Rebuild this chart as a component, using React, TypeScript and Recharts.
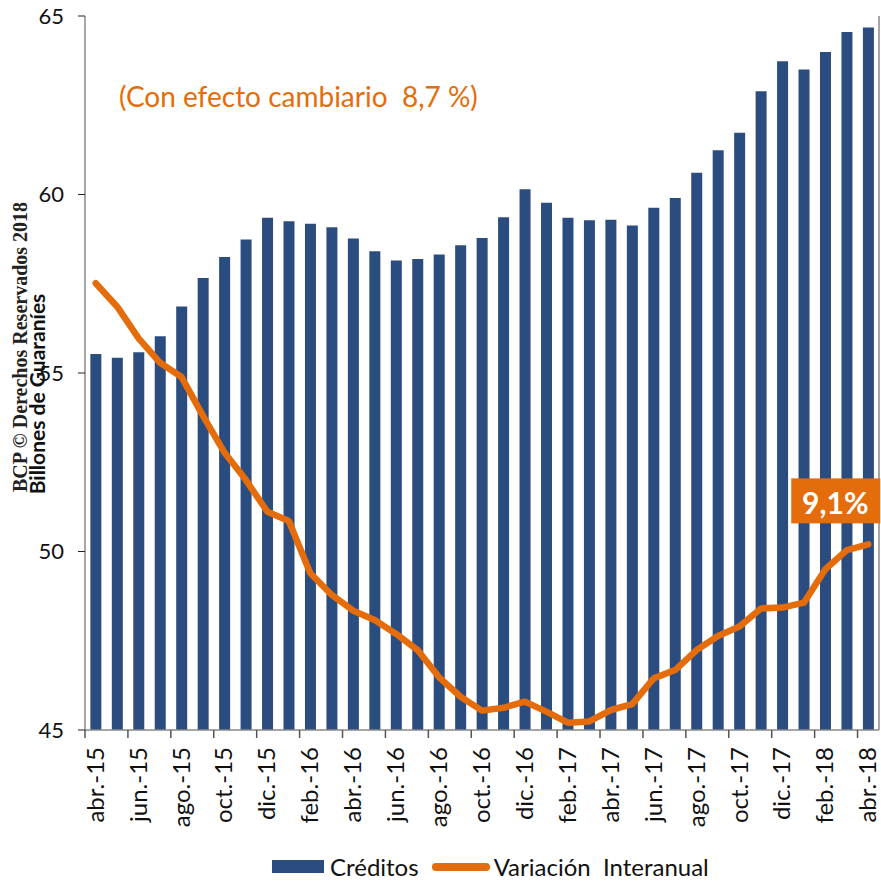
import { ComposedChart, Bar, Line, XAxis, YAxis } from 'recharts';

const meses = [
  'abr.-15', 'may.-15', 'jun.-15', 'jul.-15', 'ago.-15', 'sep.-15', 'oct.-15', 'nov.-15', 'dic.-15',
  'ene.-16', 'feb.-16', 'mar.-16', 'abr.-16', 'may.-16', 'jun.-16', 'jul.-16', 'ago.-16', 'sep.-16',
  'oct.-16', 'nov.-16', 'dic.-16', 'ene.-17', 'feb.-17', 'mar.-17', 'abr.-17', 'may.-17', 'jun.-17',
  'jul.-17', 'ago.-17', 'sep.-17', 'oct.-17', 'nov.-17', 'dic.-17', 'ene.-18', 'feb.-18', 'mar.-18',
  'abr.-18',
];

// Billones de guaraníes
const creditos = [
  55.53, 55.43, 55.58, 56.03, 56.86, 57.66, 58.25, 58.74, 59.35, 59.25, 59.18, 59.08, 58.77,
  58.41, 58.15, 58.19, 58.32, 58.58, 58.78, 59.36, 60.15, 59.77, 59.35, 59.28, 59.29, 59.13,
  59.63, 59.9, 60.61, 61.24, 61.73, 62.89, 63.73, 63.5, 63.99, 64.55, 64.68,
];

// variación interanual, %
const variacion = [
  21.9, 20.75, 19.2, 18.0, 17.3, 15.4, 13.6, 12.25, 10.7, 10.25, 7.68, 6.62, 5.85, 5.39, 4.71,
  3.92, 2.58, 1.63, 0.95, 1.09, 1.39, 0.9, 0.36, 0.42, 0.98, 1.27, 2.53, 2.94, 3.92, 4.61, 5.07,
  5.96, 6.0, 6.24, 7.88, 8.82, 9.1,
];

const leftTicks = [45, 50, 55, 60, 65];
const rightTicks = [0, 5, 10, 15, 20, 25, 30, 35];

const data = meses.map((mes, i) => ({ mes, creditos: creditos[i], variacion: variacion[i] }));

const AZUL = '#2B4C7E';
const NARANJA = '#E46C0A';
const FONT = 'Lato, "Open Sans", sans-serif';

const W = 881;
const H = 881;
const PLOT_LEFT = 85;
const PLOT_RIGHT = 879;
const PLOT_BOTTOM = 730;
const BAND = (PLOT_RIGHT - PLOT_LEFT) / meses.length;

const MonthTick = (props: any) => {
  const { x, payload } = props;
  const tx = x + 8;
  const ty = PLOT_BOTTOM + 17;
  return (
    <g>
      <line x1={x - BAND / 2} x2={x - BAND / 2} y1={PLOT_BOTTOM} y2={PLOT_BOTTOM + 8} stroke="#555" strokeWidth={1.5} />
      <text
        x={tx}
        y={ty}
        transform={`rotate(-90, ${tx}, ${ty})`}
        textAnchor="end"
        fontSize={24}
        fontFamily={FONT}
        fill="#111"
      >
        {payload.value}
      </text>
    </g>
  );
};

const EndLabel = (props: any) => {
  const { x, y, index, value } = props;
  if (index !== variacion.length - 1) return null;
  const txt = value.toFixed(1).replace('.', ',') + '%';
  return (
    <g>
      <rect x={x - 77} y={y - 66} width={89} height={45} fill={NARANJA} />
      <text
        x={x - 33}
        y={y - 42}
        fill="#fff"
        fontSize={30}
        fontWeight={700}
        fontFamily={FONT}
        textAnchor="middle"
        dominantBaseline="central"
      >
        {txt}
      </text>
    </g>
  );
};

export default function App() {
  return (
    <div style={{ position: 'absolute', left: 0, top: 0, width: W, height: H, background: '#fff', fontFamily: FONT, overflow: 'hidden' }}>
      <ComposedChart
        width={W}
        height={H}
        data={data}
        barCategoryGap="25%"
        margin={{ top: 16, right: 0, bottom: 0, left: 0 }}
      >
        <XAxis
          dataKey="mes"
          height={H - PLOT_BOTTOM}
          interval={1}
          tickLine={false}
          tick={<MonthTick />}
          axisLine={{ stroke: '#888', strokeWidth: 1.5 }}
        />
        <YAxis
          yAxisId="left"
          width={PLOT_LEFT}
          domain={[45, 65]}
          ticks={leftTicks}
          tickSize={7}
          tickMargin={14}
          tickLine={{ stroke: '#222' }}
          axisLine={{ stroke: '#888', strokeWidth: 1.5 }}
          tick={{ fontSize: 22, fill: '#111', fontFamily: FONT }}
        />
        <YAxis
          yAxisId="right"
          orientation="right"
          width={W - PLOT_RIGHT}
          domain={[0, 35]}
          ticks={rightTicks}
          tick={false}
          tickSize={4}
          tickLine={{ stroke: '#888' }}
          axisLine={{ stroke: '#888', strokeWidth: 1.5 }}
        />
        <Bar yAxisId="left" dataKey="creditos" fill={AZUL} isAnimationActive={false} />
        <Line
          yAxisId="right"
          dataKey="variacion"
          stroke={NARANJA}
          strokeWidth={6.5}
          strokeLinejoin="round"
          strokeLinecap="round"
          dot={false}
          label={<EndLabel />}
          isAnimationActive={false}
        />
      </ComposedChart>

      {/* texto anotado */}
      <div style={{ position: 'absolute', left: 119, top: 79, fontSize: 28, color: NARANJA, whiteSpace: 'pre' }}>
        (Con efecto cambiario  8,7 %)
      </div>

      {/* marca de agua y título del eje */}
      <div
        style={{
          position: 'absolute',
          left: 20,
          top: 347,
          transform: 'translate(-50%, -50%) rotate(-90deg)',
          fontFamily: '"Liberation Serif", "DejaVu Serif", serif',
          fontSize: 20,
          fontWeight: 700,
          color: '#222',
          whiteSpace: 'nowrap',
        }}
      >
        BCP © Derechos Reservados 2018
      </div>
      <div
        style={{
          position: 'absolute',
          left: 36,
          top: 394,
          transform: 'translate(-50%, -50%) rotate(-90deg)',
          fontSize: 21,
          fontWeight: 700,
          color: '#111',
          whiteSpace: 'nowrap',
        }}
      >
        Billones de Guaraníes
      </div>

      {/* leyenda */}
      <div
        style={{
          position: 'absolute',
          left: 272,
          top: 853,
          height: 27,
          lineHeight: '27px',
          display: 'flex',
          alignItems: 'center',
          fontSize: 24,
          color: '#111',
        }}
      >
        <span style={{ display: 'inline-block', width: 52, height: 13, background: AZUL, marginRight: 6 }} />
        <span style={{ marginRight: 13 }}>Créditos</span>
        <span style={{ display: 'inline-block', width: 58, height: 8, borderRadius: 4, background: NARANJA, marginRight: 4 }} />
        <span style={{ whiteSpace: 'pre' }}>Variación  Interanual</span>
      </div>
    </div>
  );
}
